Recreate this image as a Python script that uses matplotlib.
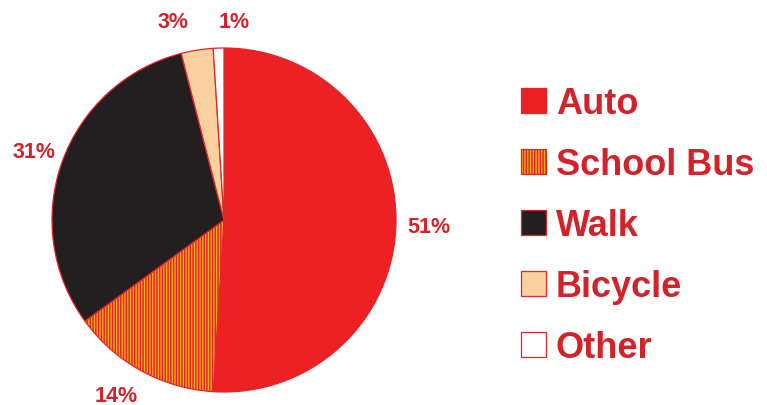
import matplotlib.pyplot as plt

# dados
modes = ['Auto', 'School Bus', 'Walk', 'Bicycle', 'Other']
shares = [51, 14, 31, 3, 1]
pct_labels = ['51%', '14%', '31%', '3%', '1%']

colors = ['#ED2024', '#F7B516', '#231F20', '#F9D09E', '#FFFFFF']
hatches = [None, '||||||', None, None, None]
red = '#D2232A'

plt.rcParams['font.family'] = ['Liberation Sans', 'DejaVu Sans']
plt.rcParams['hatch.linewidth'] = 1.1

fig = plt.figure(figsize=(7.67, 4.06), dpi=100)
ax = fig.add_axes([0, 0, 1, 1])

wedges, _ = ax.pie(shares, colors=colors, startangle=90, counterclock=False,
                   center=(224, 406 - 221), radius=172, frame=True,
                   wedgeprops=dict(edgecolor='#E0262B', linewidth=0.9))
for w, h in zip(wedges, hatches):
    if h:
        w.set_hatch(h)

# eixo em pixels
ax.set_xlim(0, 767)
ax.set_ylim(0, 406)
ax.set_aspect('auto')
ax.axis('off')

# rotulos das porcentagens (posicao em pixels, linha de base)
label_pos = [(429, 233), (116, 402), (34, 158), (173, 28), (234, 28)]
for (px, py), txt in zip(label_pos, pct_labels):
    ax.text(px, 406 - py, txt, color=red, fontsize=15.5, fontweight='bold',
            ha='center', va='baseline')

leg = ax.legend(wedges, modes, loc='upper left', bbox_to_anchor=(521 / 767, 1 - 87 / 406),
                frameon=False, prop={'size': 26, 'weight': 'bold'},
                handlelength=0.69, handleheight=0.69, handletextpad=0.27,
                labelspacing=0.72, borderpad=0, borderaxespad=0)
for t in leg.get_texts():
    t.set_color(red)

fig.savefig('out.png', dpi=100)
